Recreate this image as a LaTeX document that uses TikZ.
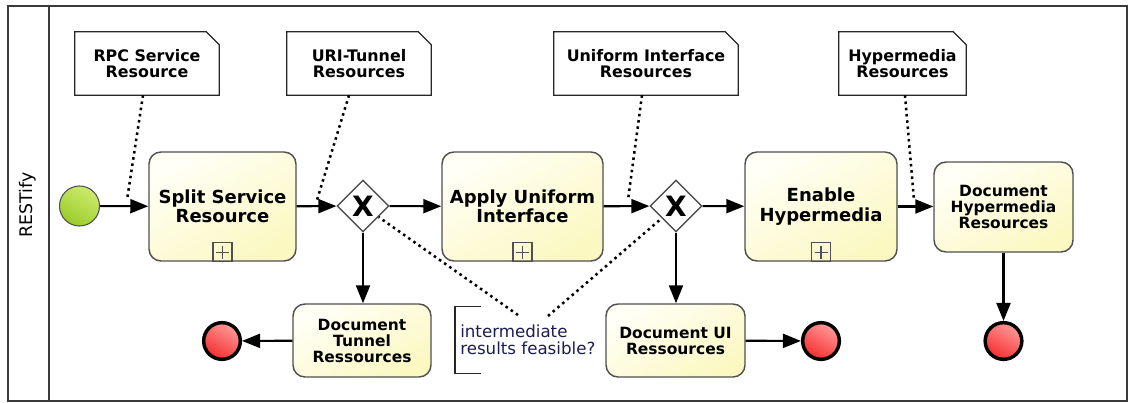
\documentclass[tikz,border=0pt]{standalone}
\usepackage{fontspec}
\setmainfont{DejaVu Sans}
\usetikzlibrary{shapes.geometric, arrows.meta, positioning, calc}
\definecolor{poolgray}{HTML}{3A3A3A}
\definecolor{taskline}{HTML}{505050}
\definecolor{tasklight}{HTML}{FFFFF6}
\definecolor{taskdark}{HTML}{FBF8C2}
\definecolor{startgreen}{HTML}{9ACB2A}
\definecolor{startlight}{HTML}{CDEB6E}
\definecolor{endred}{HTML}{F52E2E}
\definecolor{endlight}{HTML}{FF9A9A}
\definecolor{annotext}{HTML}{1C1C50}

\begin{document}
\begin{tikzpicture}[
  x=0.75pt, y=-0.75pt,
  task/.style={rectangle, rounded corners=9pt, draw=taskline, line width=1.1pt,
               top color=tasklight, bottom color=taskdark, shading angle=30,
               minimum height=81.75pt, align=center, inner sep=2pt,
               font=\bfseries\fontsize{13.5}{14.5}\selectfont},
  stask/.style={task, minimum height=54.75pt,
                font=\bfseries\fontsize{11.6}{12}\selectfont},
  gate/.style={diamond, draw=taskline, line width=1.1pt, fill=white,
               minimum width=39pt, minimum height=39pt, inner sep=0pt,
               font=\bfseries\fontsize{21}{21}\selectfont},
  startev/.style={circle, draw=taskline, line width=0.8pt, minimum size=30pt,
                  top color=startlight, bottom color=startgreen, shading angle=-30},
  endev/.style={circle, draw=black, line width=2.6pt, minimum size=27.5pt,
                top color=endlight, bottom color=endred, shading angle=-30},
  note/.style={rectangle, minimum height=47.25pt, align=center, inner sep=0pt,
               font=\bfseries\fontsize{11.9}{12}\selectfont},
  flow/.style={-{Triangle[length=13.5pt, width=10.5pt]}, line width=1.6pt},
  assoc/.style={line width=1.9pt, dash pattern=on 1.9pt off 2.8pt}
]
\useasboundingbox (0,0) rectangle (1129,403);

% pool and lane
\draw[poolgray, line width=1.5pt] (8,6) rectangle (1127,401);
\draw[poolgray, line width=1.2pt] (49,6) -- (49,401);
\node[rotate=90, font=\fontsize{13}{13}\selectfont] (lane) at (28,205) {RESTify};

% data notes
\node[note, minimum width=108pt]   (rpc) at (147,63.5)   {RPC Service\\Resource};
\node[note, minimum width=108pt]   (uri) at (359,63.5)   {URI-Tunnel\\Resources};
\node[note, minimum width=138pt]   (uif) at (646,63.5)   {Uniform Interface\\Resources};
\node[note, minimum width=95.25pt] (hyp) at (902.5,63.5) {Hypermedia\\Resources};
\foreach \n in {rpc,uri,uif,hyp}
  \draw[black!85, line width=0.9pt] (\n.south west) -- (\n.north west)
    -- ($(\n.north east)+(-13,0)$) -- ($(\n.north east)+(0,13)$)
    -- (\n.south east) -- cycle;

% events, tasks, gateways
\node[startev] (start) at (79.5,206) {};
\node[task, minimum width=110.25pt] (split)  at (222.5,206.5) {Split Service\\Resource};
\node[gate] (gw1) at (363,206) {X};
\node[task, minimum width=120.75pt] (apply)  at (522.5,206.5) {Apply Uniform\\Interface};
\node[gate] (gw2) at (676,206) {X};
\node[task, minimum width=114pt]    (enable) at (821,206.5)   {Enable\\Hypermedia};
\node[stask, minimum width=104.25pt, minimum height=67.5pt] (dochyp) at (1003.5,207)
  {Document\\Hypermedia\\Resources};
\node[stask, minimum width=103.5pt]  (tunnel) at (362,340.5)   {Document\\Tunnel\\Ressources};
\node[stask, minimum width=104.25pt] (docui)  at (675.5,340.5) {Document UI\\Ressources};
\node[endev] (endl) at (222,341) {};
\node[endev] (endm) at (821,341) {};
\node[endev] (endr) at (1003.5,341) {};

% sub-process markers
\foreach \t in {split,apply,enable} {
  \draw[taskline, line width=1pt] ($(\t.south)+(-9.5,-19)$) rectangle ($(\t.south)+(9.5,0)$);
  \draw[taskline, line width=1pt] ($(\t.south)+(0,-16)$) -- ($(\t.south)+(0,-3)$)
    ($(\t.south)+(-6.5,-9.5)$) -- ($(\t.south)+(6.5,-9.5)$);
}

% annotation
\node[anchor=west, minimum height=49.5pt, inner xsep=3.75pt, align=left,
      text=annotext, font=\fontsize{12.5}{12.5}\selectfont] (ann) at (455,340)
  {intermediate\\results feasible?};
\draw[black!85, line width=0.9pt] ([xshift=19.5pt]ann.north west) -| (ann.south west)
  -- ++(26,0);

% sequence flows
\draw[flow] (start) -- (split);
\draw[flow] (split) -- (gw1);
\draw[flow] (gw1) -- (apply);
\draw[flow] (apply) -- (gw2);
\draw[flow] (gw2) -- (enable);
\draw[flow] (enable.east) -- (enable.east -| dochyp.west);
\draw[flow] (gw1.south) -- (gw1.south |- tunnel.north);
\draw[flow] (gw2.south) -- (gw2.south |- docui.north);
\draw[flow] (tunnel) -- (endl);
\draw[flow] (docui) -- (endm);
\draw[flow] (dochyp) -- (endr);

% associations
\coordinate (c1) at (127,200);
\coordinate (c2) at (317,200);
\coordinate (c3) at (628,200);
\coordinate (c4) at (914,200);
\coordinate (a1) at (518,315);
\coordinate (a2) at (548,316);
\draw[assoc] ($(rpc.south)+(-4,0)$) -- (c1);
\draw[assoc] ($(uri.south)+(-10,0)$) -- (c2);
\draw[assoc] ($(uif.south)+(-4,0)$) -- (c3);
\draw[assoc] ($(hyp.south)+(2.5,0)$) -- (c4);
\draw[assoc] (a1) -- (gw1);
\draw[assoc] (a2) -- (gw2);
\end{tikzpicture}
\end{document}
